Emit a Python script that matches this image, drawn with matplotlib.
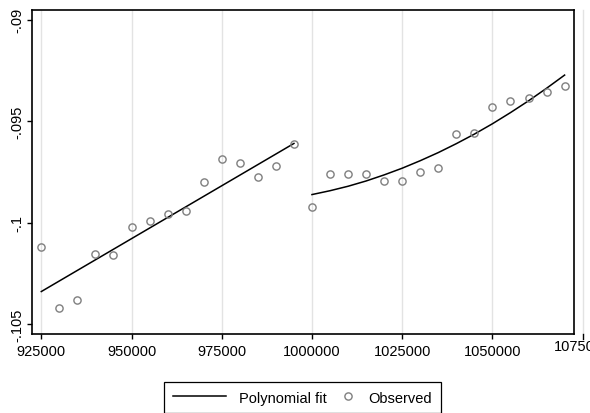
import numpy as np
import matplotlib
matplotlib.use("Agg")
from matplotlib import pyplot as plt
from matplotlib.lines import Line2D
from matplotlib.legend_handler import HandlerLine2D
import matplotlib.transforms as mtransforms

# observed (binned) values
obs_x = [925000, 930000, 935000, 940000, 945000, 950000, 955000, 960000,
         965000, 970000, 975000, 980000, 985000, 990000, 995000,
         1000000, 1005000, 1010000, 1015000, 1020000, 1025000, 1030000,
         1035000, 1040000, 1045000, 1050000, 1055000, 1060000, 1065000, 1070000]
obs_y = [-0.10122, -0.10423, -0.10384, -0.10153, -0.10161, -0.10020, -0.09990,
         -0.09958, -0.09941, -0.09799, -0.09688, -0.09704, -0.09774, -0.09719,
         -0.09611,
         -0.09923, -0.09762, -0.09762, -0.09762, -0.09797, -0.09794, -0.09753,
         -0.09732, -0.09564, -0.09557, -0.09430, -0.09400, -0.09385, -0.09354,
         -0.09325]

# polynomial fit, left and right of the cutoff
fit_left_x = [925000, 960000, 995000]
fit_left_y = [-0.1034, -0.09975, -0.0961]
fit_right_x = [1000000, 1005000, 1010000, 1015000, 1020000, 1025000, 1030000,
               1035000, 1040000, 1045000, 1050000, 1055000, 1060000, 1065000,
               1070000]
fit_right_y = [-0.09862, -0.09843, -0.09821, -0.09795, -0.09765, -0.09732,
               -0.09695, -0.09655, -0.09611, -0.09564, -0.09513, -0.09458,
               -0.09400, -0.09338, -0.09273]

xticks = [925000, 950000, 975000, 1000000, 1025000, 1050000, 1075000]
yticks = [-0.09, -0.095, -0.1, -0.105]
ylabels = ["-.09", "-.095", "-.1", "-.105"]

plt.rcParams['font.family'] = ['Liberation Sans', 'DejaVu Sans']

fig = plt.figure(figsize=(5.9, 4.14), dpi=100)
ax = fig.add_axes([32 / 590, 1 - 334.7 / 414, (574.3 - 32) / 590, (334.7 - 11) / 414])

gridc = '#e3e3e3'
for xt in xticks:
    ax.axvline(xt, color=gridc, lw=1.0, zorder=0, clip_on=False)

ax.plot(fit_left_x, fit_left_y, color='black', lw=1.1, zorder=3)
ax.plot(fit_right_x, fit_right_y, color='black', lw=1.1, zorder=3)
ax.plot(obs_x, obs_y, ls='none', marker='o', ms=5.2, mfc='none', mec='#7f7f7f',
        mew=1.0, zorder=4)

ax.set_xlim(922423, 1072686)
ax.set_ylim(-0.105478, -0.089522)

ax.set_xticks(xticks[:-1])
ax.set_xticklabels([str(v) for v in xticks[:-1]])
ax.set_yticks(yticks)
ax.set_yticklabels(ylabels, rotation=90, va='center')
ax.tick_params(axis='both', direction='out', length=3.8, width=1.0,
               labelsize=10.5, color='black')
ax.tick_params(axis='x', pad=3.5)
ax.tick_params(axis='y', pad=2)

# last tick sits past the right edge of the plot region
trans = mtransforms.blended_transform_factory(ax.transData, ax.transAxes)
ax.plot([xticks[-1], xticks[-1]], [0, -0.0165], transform=trans, color='black',
        lw=1.0, clip_on=False)
ax.text(xticks[-1], -0.0165, str(xticks[-1]), transform=trans, ha='center',
        va='top', fontsize=10.5, clip_on=False)

for s in ax.spines.values():
    s.set_linewidth(1.2)
    s.set_color('black')


class RightMarker(HandlerLine2D):
    # single marker pushed to the right end of the handle box
    def create_artists(self, legend, orig_handle, xdescent, ydescent,
                       width, height, fontsize, trans):
        m = Line2D([-xdescent + width - 5], [(height - ydescent) / 2])
        self.update_prop(m, orig_handle, legend)
        m.set_linestyle('none')
        m.set_transform(trans)
        return [m]


h1 = Line2D([], [], color='black', lw=1.1)
h2 = Line2D([], [], ls='none', marker='o', ms=5.2, mfc='none', mec='#7f7f7f', mew=1.0)
leg = fig.legend([h1, h2], ['Polynomial fit', 'Observed'], ncol=2,
                 loc='center', bbox_to_anchor=(0.513, 0.0374),
                 fontsize=10.5, handlelength=3.6, handletextpad=0.95,
                 columnspacing=-1.7, borderpad=0.6, fancybox=False,
                 edgecolor='black', framealpha=1,
                 handler_map={h2: RightMarker()})
leg.get_frame().set_linewidth(0.9)

fig.savefig('out.png', dpi=100)
